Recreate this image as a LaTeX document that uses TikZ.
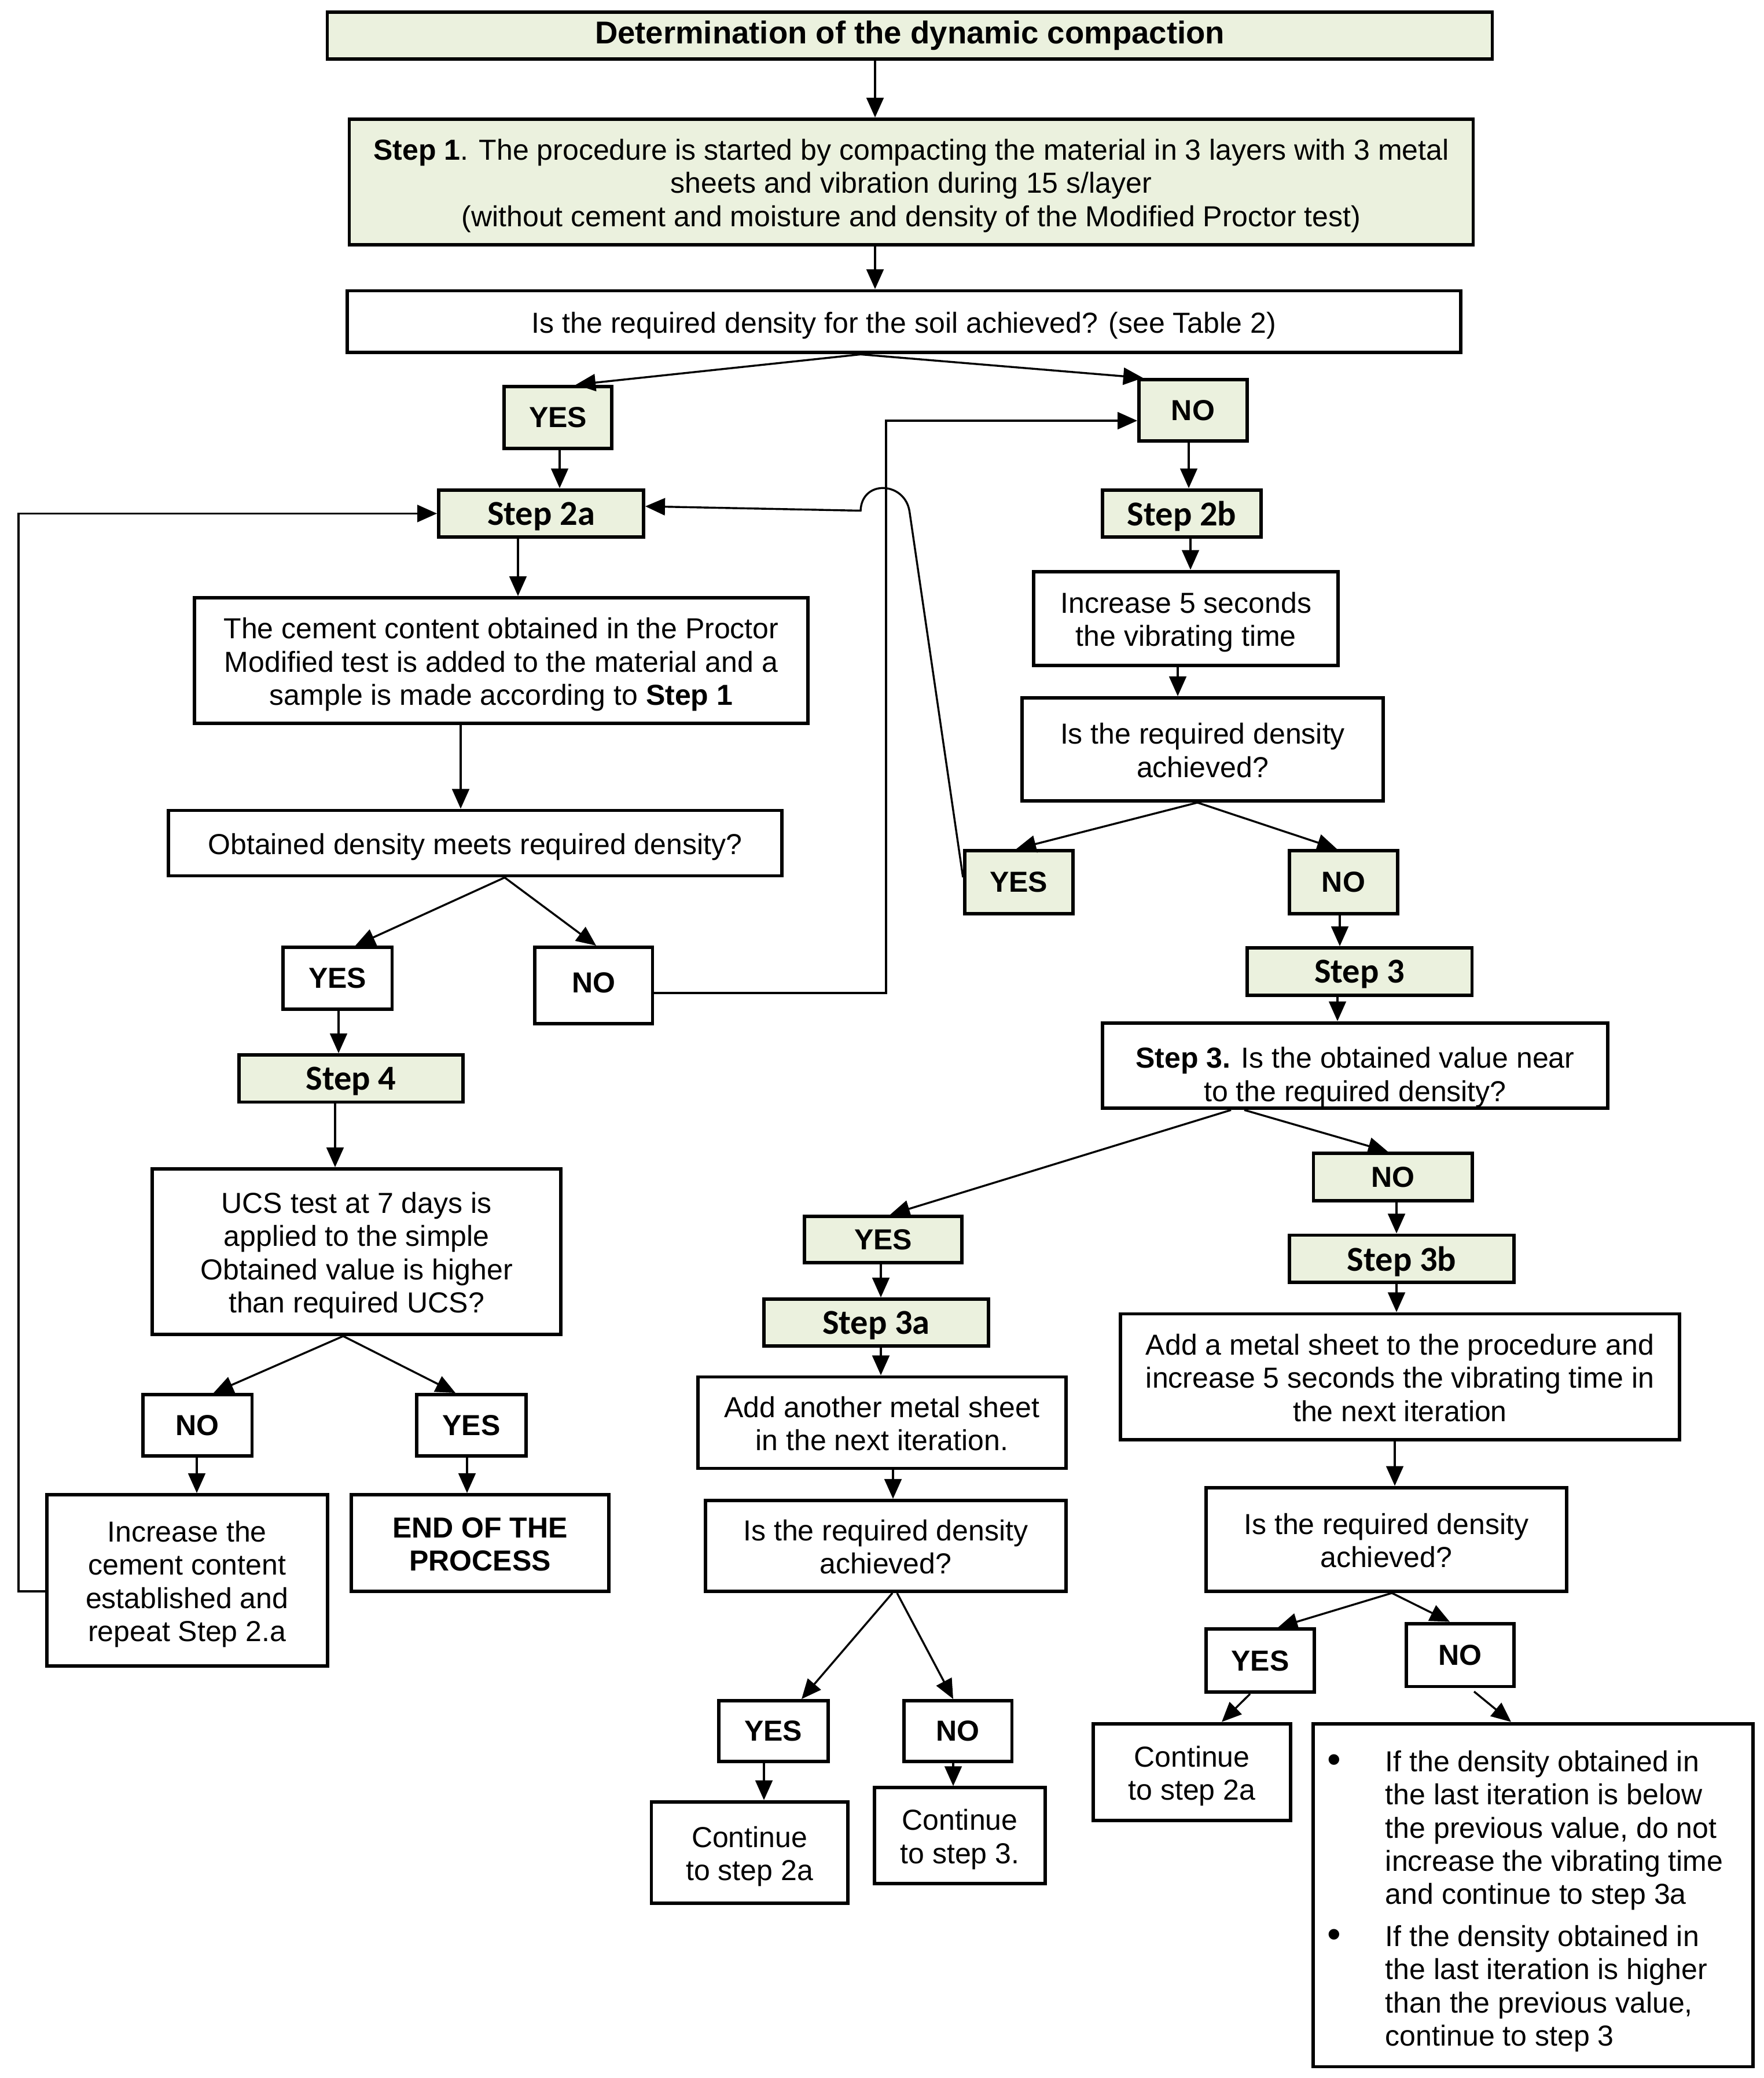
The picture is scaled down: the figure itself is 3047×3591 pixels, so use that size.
\documentclass[tikz,border=0pt]{standalone}
\usepackage{fontspec}
\usepackage{graphicx}
\setmainfont{Liberation Sans}
\newfontfamily\stepfont{Carlito}
\usetikzlibrary{arrows.meta}
\definecolor{stepgreen}{RGB}{235,241,222}
\newcommand\vc[3]{\draw[arr] (#1.south -| #3,0) -- (#2.north -| #3,0);}
\newcommand\dc[4]{\draw[arr] (#1.south -| #2,0) -- (#3.north -| #4,0);}
\newcommand\ltop{\rule{0pt}{11pt}}
\newcommand\lbot{\rule[-2.4pt]{0pt}{0pt}}
\newcommand\bigbul{\raisebox{-0.35pt}{\scalebox{1.35}{\textbullet}}}
\begin{document}
\begin{tikzpicture}[x=0.22pt,y=-0.22pt,
  bx/.style={draw, line width=1.3pt, inner sep=0pt, align=center, font=\fontsize{11}{12.6}\selectfont},
  gbx/.style={bx, fill=stepgreen},
  lbl/.style={font=\fontsize{11}{12.6}\selectfont\bfseries},
  stp/.style={font=\stepfont\fontsize{13.3}{15}\selectfont\bfseries, text depth=0pt},
  arr/.style={line width=0.75pt, -{Triangle[length=7.5pt,width=6.5pt]}},
  sz/.style 2 args={minimum width=#1*0.22pt, minimum height=#2*0.22pt}]
\useasboundingbox (0,0) rectangle (3047,3591);

% top
\node[gbx, font=\fontsize{12}{14}\selectfont\bfseries, sz={2013}{80.6}] (title) at (1572,61.7) {Determination of the dynamic compaction};
\node[gbx, sz={1942}{216.8}] (step1) at (1574.5,314.4) {\ltop\textbf{Step 1}. The procedure is started by compacting the material in 3 layers with 3 metal\\sheets and vibration during 15 s/layer\\(without cement and moisture and density of the Modified Proctor test)\lbot};
\node[bx, sz={1924.3}{106.9}] (q1) at (1561.9,556) {\ltop Is the required density for the soil achieved? (see Table 2)\lbot};
\node[gbx, lbl, sz={186.6}{106.9}] (yes1) at (964.1,721.2) {YES};
\node[gbx, lbl, sz={186.7}{106}] (no1) at (2061.4,709) {NO};
\node[gbx, stp, sz={353.9}{81.7}] (s2a) at (935,887.4) {Step 2a};
\node[gbx, stp, sz={274}{81.7}] (s2b) at (2042,887.4) {Step 2b};

% right column
\node[bx, sz={525.8}{162.3}] (inc5) at (2049.3,1068.7) {\ltop Increase 5 seconds\\the vibrating time\lbot};
\node[bx, sz={624}{178}] (q2b) at (2078,1295) {\ltop Is the required density\\achieved?\lbot};
\node[gbx, lbl, sz={186.7}{109}] (yes2) at (1760.2,1524.5) {YES};
\node[gbx, lbl, sz={187.6}{109}] (no2) at (2321.4,1524.5) {NO};
\node[gbx, stp, sz={388.8}{82}] (s3) at (2349.1,1679) {Step 3};
\node[bx, sz={872.7}{147.7}] (q3) at (2341.4,1841.4) {\rule{0pt}{17pt}\textbf{Step 3.} Is the obtained value near\\to the required density?\lbot};
\node[gbx, lbl, sz={274.1}{81.6}] (no3) at (2406.5,2033.8) {NO};
\node[gbx, lbl, sz={272}{80}] (yes3) at (1526,2142) {YES};
\node[gbx, stp, sz={387.7}{81}] (s3a) at (1513.9,2285.5) {Step 3a};
\node[bx, sz={635.8}{158}] (addan) at (1523.9,2458.5) {\ltop Add another metal sheet\\in the next iteration.\lbot};
\node[bx, sz={623.1}{157}] (q3a) at (1530.3,2671.5) {\ltop Is the required density\\achieved?\lbot};
\node[bx, lbl, sz={188.6}{105}] (yes4) at (1336.3,2991.5) {YES};
\node[bx, lbl, sz={186.6}{105}] (no4) at (1655.2,2991.5) {NO};
\node[bx, sz={339.2}{175}] (c2a1) at (1295.1,3201.2) {\ltop Continue\\to step 2a\lbot};
\node[bx, sz={294.8}{165.3}] (c3) at (1658.4,3172) {\ltop Continue\\to step 3.\lbot};
\node[gbx, stp, sz={388.8}{81.1}] (s3b) at (2422,2175) {Step 3b};
\node[bx, sz={966}{217.5}] (addm) at (2419,2379.2) {\ltop Add a metal sheet to the procedure and\\increase 5 seconds the vibrating time in\\the next iteration\lbot};
\node[bx, sz={623}{179.3}] (q3b) at (2395.3,2660.3) {\ltop Is the required density\\achieved?\lbot};
\node[bx, lbl, sz={187.6}{108.8}] (yes5) at (2177.6,2869.8) {YES};
\node[bx, lbl, sz={186.6}{108.9}] (no5) at (2523.1,2860) {NO};
\node[bx, sz={340.2}{167.2}] (c2a2) at (2059.5,3062.2) {\ltop Continue\\to step 2a\lbot};
\node[bx, sz={760}{592.9}] (bul) at (2649.4,3275) {};
\node[anchor=west, inner sep=0pt, font=\fontsize{11}{12.6}\selectfont] (bultxt) at (2293,3287) {\begin{tabular}{@{}p{22pt}@{}l@{}}
\bigbul & If the density obtained in\\
 & the last iteration is below\\
 & the previous value, do not\\
 & increase the vibrating time\\
 & and continue to step 3a\\[3.4pt]
\bigbul & If the density obtained in\\
 & the last iteration is higher\\
 & than the previous value,\\
 & continue to step 3
\end{tabular}};

% left column
\node[bx, sz={1059.3}{217}] (cem) at (866,1141.5) {\ltop The cement content obtained in the Proctor\\Modified test is added to the material and a\\sample is made according to \textbf{Step 1}\lbot};
\node[bx, sz={1060.4}{113}] (obt) at (820.8,1457) {\ltop Obtained density meets required density?\lbot};
\node[bx, lbl, sz={188.5}{107}] (yes6) at (583.2,1690.5) {YES};
\node[bx, lbl, sz={203.1}{132.4}] (no6) at (1025.9,1703.2) {\raisebox{2.4pt}{NO}};
\node[gbx, stp, sz={387}{81.5}] (s4) at (606.5,1863.7) {Step 4};
\node[bx, sz={705.6}{286}] (ucs) at (616.2,2163) {\ltop UCS test at 7 days is\\applied to the simple\\Obtained value is higher\\than required UCS?\lbot};
\node[bx, lbl, sz={188.5}{106}] (no7) at (341.2,2463) {NO};
\node[bx, lbl, sz={188.7}{106}] (yes7) at (814.4,2463) {YES};
\node[bx, sz={484.9}{295.5}] (incc) at (323.2,2730.8) {\ltop Increase the\\cement content\\established and\\repeat Step 2.a\lbot};
\node[bx, lbl, sz={444.2}{167}] (endp) at (829.5,2666.5) {\ltop END OF THE\\PROCESS\lbot};

% vertical connectors
\vc{title}{step1}{1512}
\vc{step1}{q1}{1512}
\vc{yes1}{s2a}{967}
\vc{no1}{s2b}{2054}
\vc{s2b}{inc5}{2057}
\vc{inc5}{q2b}{2035}
\vc{no2}{s3}{2315}
\vc{s3}{q3}{2311}
\vc{no3}{s3b}{2413}
\vc{s3b}{addm}{2413}
\vc{addm}{q3b}{2410}
\vc{yes3}{s3a}{1522}
\vc{s3a}{addan}{1522}
\vc{addan}{q3a}{1543}
\vc{yes4}{c2a1}{1320}
\vc{no4}{c3}{1647}
\vc{s2a}{cem}{895}
\vc{cem}{obt}{796}
\vc{yes6}{s4}{585}
\vc{s4}{ucs}{579}
\vc{no7}{incc}{340}
\vc{yes7}{endp}{807}

% diagonal connectors
\dc{q1}{1487}{yes1}{995}
\dc{q1}{1487}{no1}{1975}
\dc{q2b}{2069}{yes2}{1756}
\dc{q2b}{2069}{no2}{2310}
\dc{q3}{2127}{yes3}{1538}
\dc{q3}{2150}{no3}{2398}
\dc{q3a}{1542}{yes4}{1385}
\dc{q3a}{1550}{no4}{1647}
\dc{q3b}{2405}{yes5}{2208}
\dc{q3b}{2405}{no5}{2505}
\dc{yes5}{2160}{c2a2}{2111}
\draw[arr, shorten <=2pt] (no5.south -| 2540,0) -- (bul.north -| 2611,0);
\dc{obt}{872}{yes6}{614}
\dc{obt}{872}{no6}{1030}
\dc{ucs}{593}{no7}{369}
\dc{ucs}{593}{yes7}{787}

% feedback loops
\draw[arr] (incc.west |- 0,2750) -- (32,2750) |- (s2a.west);
\draw[arr] (no6.east |- 0,1716) -| (1530.8,727) -- (no1.west |- 0,727);
\draw[arr] (yes2.west |- 0,1516) -- (1571.6,884.4) .. controls (1564,832) and (1489,828) .. (1487,882.5) -- (s2a.east |- 0,875);
\end{tikzpicture}
\end{document}
